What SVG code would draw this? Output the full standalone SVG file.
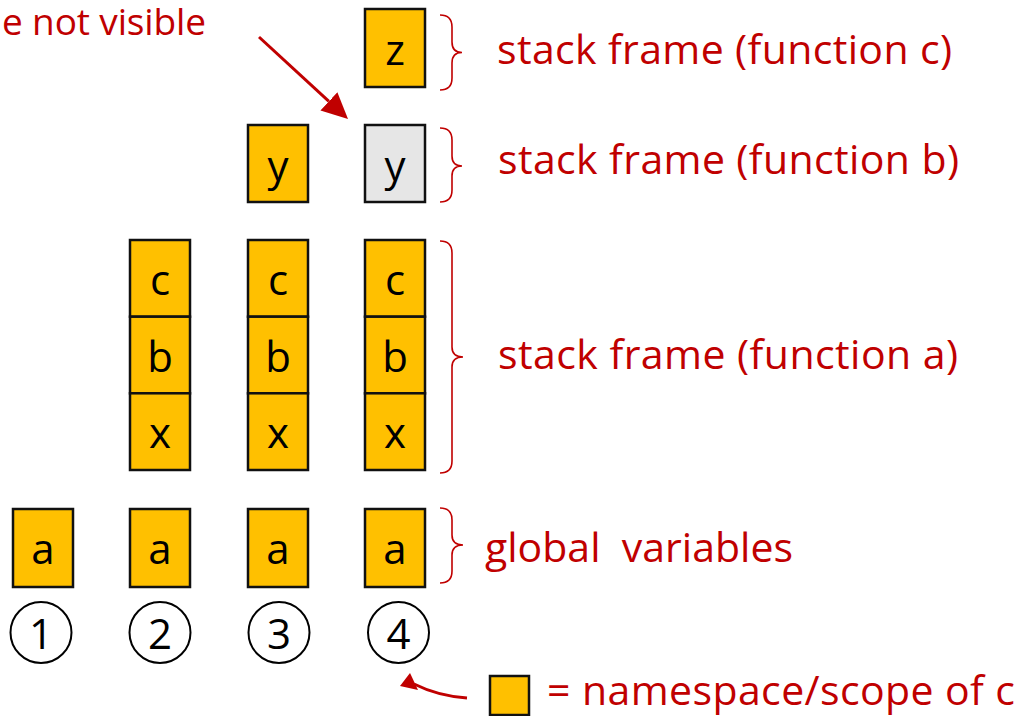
<svg xmlns="http://www.w3.org/2000/svg" width="1021" height="716" viewBox="0 0 1021 716">
  <defs>
    <style>
      .box { fill: #FFC000; stroke: #111; stroke-width: 2.5; }
      .grey { fill: #E6E6E6; stroke: #111; stroke-width: 2.5; }
      .lbl { font-family: "Open Sans", "Noto Sans", sans-serif; font-size: 42px; fill: #000; text-anchor: middle; }
      .red { font-family: "Open Sans", "Noto Sans", sans-serif; font-size: 41px; fill: #C00000; }
      .brace { fill: none; stroke: #C00000; stroke-width: 1.6; }
      .circ { fill: #fff; stroke: #000; stroke-width: 2; }
      .arrow { fill: none; stroke: #C00000; stroke-width: 3; }
    </style>
    <marker id="head" markerUnits="userSpaceOnUse" markerWidth="26" markerHeight="25" viewBox="0 0 26 25" refX="0" refY="12.5" orient="auto">
      <path d="M0,0 L26,12.5 L0,25 z" fill="#C00000"/>
    </marker>
  </defs>

  <!-- Column 1 -->
  <g id="col1-a"><rect class="box" x="13" y="509" width="60" height="78"/><text class="lbl" x="43" y="564">a</text></g>
  <g id="step1"><circle class="circ" cx="41" cy="632.5" r="30.5"/><text class="lbl" x="41" y="649">1</text></g>

  <!-- Column 2 -->
  <g id="col2-c"><rect class="box" x="130" y="240" width="60" height="76.7"/><text class="lbl" x="160" y="295">c</text></g>
  <g id="col2-b"><rect class="box" x="130" y="316.7" width="60" height="76.7"/><text class="lbl" x="160" y="372">b</text></g>
  <g id="col2-x"><rect class="box" x="130" y="393.3" width="60" height="76.7"/><text class="lbl" x="160" y="448">x</text></g>
  <g id="col2-a"><rect class="box" x="130" y="509" width="60" height="78"/><text class="lbl" x="160" y="564">a</text></g>
  <g id="step2"><circle class="circ" cx="160" cy="632.5" r="30.5"/><text class="lbl" x="160" y="649">2</text></g>

  <!-- Column 3 -->
  <g id="col3-y"><rect class="box" x="248" y="125" width="60" height="77"/><text class="lbl" x="278" y="181">y</text></g>
  <g id="col3-c"><rect class="box" x="248" y="240" width="60" height="76.7"/><text class="lbl" x="278" y="295">c</text></g>
  <g id="col3-b"><rect class="box" x="248" y="316.7" width="60" height="76.7"/><text class="lbl" x="278" y="372">b</text></g>
  <g id="col3-x"><rect class="box" x="248" y="393.3" width="60" height="76.7"/><text class="lbl" x="278" y="448">x</text></g>
  <g id="col3-a"><rect class="box" x="248" y="509" width="60" height="78"/><text class="lbl" x="278" y="564">a</text></g>
  <g id="step3"><circle class="circ" cx="279" cy="632.5" r="30.5"/><text class="lbl" x="279" y="649">3</text></g>

  <!-- Column 4 -->
  <g id="col4-z"><rect class="box" x="365" y="9" width="60" height="78"/><text class="lbl" x="395" y="65">z</text></g>
  <g id="col4-y"><rect class="grey" x="365" y="125" width="60" height="77"/><text class="lbl" x="395" y="181">y</text></g>
  <g id="col4-c"><rect class="box" x="365" y="240" width="60" height="76.7"/><text class="lbl" x="395" y="295">c</text></g>
  <g id="col4-b"><rect class="box" x="365" y="316.7" width="60" height="76.7"/><text class="lbl" x="395" y="372">b</text></g>
  <g id="col4-x"><rect class="box" x="365" y="393.3" width="60" height="76.7"/><text class="lbl" x="395" y="448">x</text></g>
  <g id="col4-a"><rect class="box" x="365" y="509" width="60" height="78"/><text class="lbl" x="395" y="564">a</text></g>
  <g id="step4"><circle class="circ" cx="398.5" cy="632.5" r="30.5"/><text class="lbl" x="398.5" y="649">4</text></g>

  <!-- Braces and labels -->
  <g id="frame-c">
    <path class="brace" d="M440,15 Q452,15 452,27 L452,42 Q452,52.5 462,52.5 Q452,52.5 452,63 L452,78 Q452,90 440,90"/>
    <text class="red" x="497" y="64" textLength="455">stack frame (function c)</text>
  </g>
  <g id="frame-b">
    <path class="brace" d="M440,128 Q452,128 452,140 L452,156 Q452,166 462,166 Q452,166 452,176 L452,190 Q452,202 440,202"/>
    <text class="red" x="498" y="174" textLength="461">stack frame (function b)</text>
  </g>
  <g id="frame-a">
    <path class="brace" d="M440,241 Q452,241 452,253 L452,347 Q452,357 463,357 Q452,357 452,367 L452,461 Q452,473 440,473"/>
    <text class="red" x="498" y="369" textLength="460">stack frame (function a)</text>
  </g>
  <g id="globals">
    <path class="brace" d="M440,508 Q452,508 452,520 L452,535 Q452,545 463,545 Q452,545 452,555 L452,571 Q452,583 440,583"/>
    <text class="red" x="485" y="562" textLength="308" xml:space="preserve">global  variables</text>
  </g>

  <g id="note">
    <text class="red" x="2" y="35" textLength="204" style="font-size:37px">e not visible</text>
  </g>

  <g id="legend">
    <rect class="box" x="490" y="676" width="39" height="39"/>
    <text class="red" x="547" y="705" textLength="468">= namespace/scope of c</text>
  </g>

  <!-- Connectors -->
  <g id="connectors">
    <path class="arrow" d="M259,37 L328.9,101.4" marker-end="url(#head)"/>
    <path class="arrow" d="M467,698 Q438,696 414,684"/>
    <polygon points="400,686 410,673 418,690" fill="#C00000"/>
  </g>
</svg>
